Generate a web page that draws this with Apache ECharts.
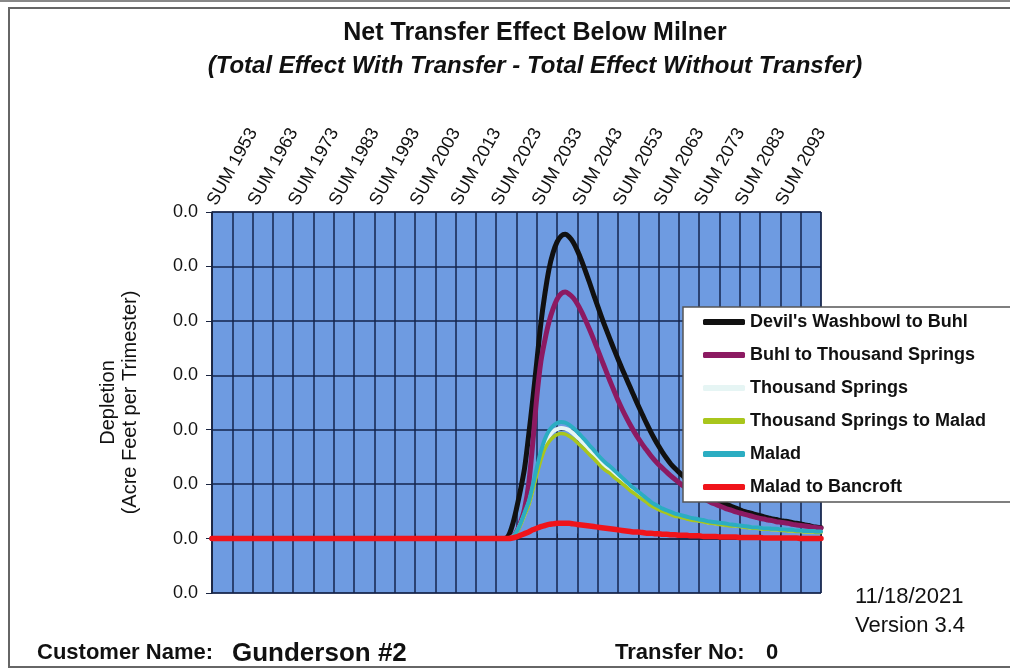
<!DOCTYPE html>
<html>
<head>
<meta charset="utf-8">
<script src="https://cdn.jsdelivr.net/npm/echarts@6/dist/echarts.min.js"></script>
<style>
  html, body { margin: 0; padding: 0; background: #fff; }
  #chart { width: 1010px; height: 669px; }
</style>
</head>
<body>
<div id="chart"></div>
<script>
// one summer trimester per year, SUM 1953 ... SUM 2103
const years = [];
for (let y = 1953; y <= 2103; y++) years.push("SUM " + y);

// depletion values, in thousandths of an acre-foot (axis shows acre-feet, 1 decimal)
// 1953 - 2025: no effect yet
const zeroYears = [
  0, 0, 0, 0, 0, 0, 0, 0, 0, 0,
  0, 0, 0, 0, 0, 0, 0, 0, 0, 0,
  0, 0, 0, 0, 0, 0, 0, 0, 0, 0,
  0, 0, 0, 0, 0, 0, 0, 0, 0, 0,
  0, 0, 0, 0, 0, 0, 0, 0, 0, 0,
  0, 0, 0, 0, 0, 0, 0, 0, 0, 0,
  0, 0, 0, 0, 0, 0, 0, 0, 0, 0,
  0, 0, 0
];
// 2026 - 2103
const devilsWashbowlToBuhl = [
  0.05, 0.25, 0.55, 0.9, 1.3, 1.9, 2.55, 3.25, 3.95, 4.5,
  4.95, 5.25, 5.45, 5.56, 5.59, 5.54, 5.44, 5.29, 5.11, 4.91,
  4.7, 4.48, 4.27, 4.06, 3.86, 3.67, 3.48, 3.3, 3.12, 2.95,
  2.78, 2.61, 2.44, 2.28, 2.12, 1.97, 1.83, 1.7, 1.58, 1.47,
  1.37, 1.29, 1.22, 1.15, 1.08, 1.02, 0.96, 0.91, 0.86, 0.81,
  0.77, 0.73, 0.69, 0.65, 0.62, 0.59, 0.56, 0.53, 0.5, 0.48,
  0.46, 0.44, 0.42, 0.4, 0.38, 0.36, 0.35, 0.33, 0.32, 0.31,
  0.29, 0.28, 0.27, 0.25, 0.24, 0.22, 0.21, 0.2
];
const buhlToThousandSprings = [
  0, 0.03, 0.12, 0.3, 0.55, 1.0, 1.75, 2.6, 3.25, 3.65,
  3.98, 4.22, 4.4, 4.5, 4.53, 4.49, 4.42, 4.31, 4.17, 4.01,
  3.84, 3.66, 3.47, 3.28, 3.09, 2.9, 2.72, 2.54, 2.38, 2.23,
  2.09, 1.96, 1.84, 1.73, 1.63, 1.53, 1.44, 1.36, 1.29, 1.22,
  1.15, 1.09, 1.03, 0.97, 0.92, 0.87, 0.82, 0.78, 0.74, 0.7,
  0.66, 0.63, 0.6, 0.57, 0.54, 0.52, 0.49, 0.47, 0.45, 0.43,
  0.41, 0.39, 0.37, 0.36, 0.34, 0.33, 0.31, 0.3, 0.29, 0.28,
  0.26, 0.25, 0.24, 0.23, 0.22, 0.21, 0.2, 0.19
];
const thousandSprings = [
  0, 0.03, 0.11, 0.27, 0.45, 0.65, 0.93, 1.23, 1.52, 1.74,
  1.88, 1.97, 2.01, 2.03, 2.02, 1.99, 1.93, 1.86, 1.79, 1.71,
  1.62, 1.55, 1.46, 1.39, 1.32, 1.26, 1.2, 1.13, 1.06, 1.0,
  0.93, 0.87, 0.82, 0.76, 0.7, 0.65, 0.6, 0.56, 0.52, 0.49,
  0.47, 0.44, 0.42, 0.4, 0.38, 0.36, 0.35, 0.33, 0.32, 0.3,
  0.29, 0.28, 0.27, 0.26, 0.26, 0.25, 0.24, 0.23, 0.22, 0.21,
  0.2, 0.2, 0.19, 0.18, 0.18, 0.17, 0.17, 0.16, 0.16, 0.15,
  0.15, 0.14, 0.14, 0.13, 0.13, 0.13, 0.12, 0.12
];
const thousandSpringsToMalad = [
  0, 0.02, 0.1, 0.25, 0.43, 0.61, 0.88, 1.17, 1.44, 1.65,
  1.78, 1.86, 1.91, 1.93, 1.92, 1.88, 1.83, 1.76, 1.69, 1.62,
  1.54, 1.47, 1.39, 1.31, 1.25, 1.2, 1.13, 1.07, 1.01, 0.95,
  0.88, 0.83, 0.77, 0.72, 0.67, 0.61, 0.57, 0.53, 0.5, 0.47,
  0.44, 0.41, 0.4, 0.38, 0.36, 0.34, 0.33, 0.32, 0.31, 0.29,
  0.28, 0.27, 0.26, 0.25, 0.24, 0.23, 0.23, 0.22, 0.21, 0.2,
  0.19, 0.19, 0.18, 0.17, 0.17, 0.16, 0.16, 0.15, 0.15, 0.14,
  0.14, 0.13, 0.13, 0.12, 0.12, 0.12, 0.11, 0.11
];
const malad = [
  0, 0.03, 0.12, 0.28, 0.48, 0.68, 0.98, 1.3, 1.6, 1.83,
  1.98, 2.07, 2.12, 2.14, 2.13, 2.09, 2.03, 1.96, 1.88, 1.8,
  1.71, 1.63, 1.54, 1.46, 1.39, 1.33, 1.26, 1.19, 1.12, 1.05,
  0.98, 0.92, 0.86, 0.8, 0.74, 0.68, 0.63, 0.59, 0.55, 0.52,
  0.49, 0.46, 0.44, 0.42, 0.4, 0.38, 0.37, 0.35, 0.34, 0.32,
  0.31, 0.3, 0.29, 0.28, 0.27, 0.26, 0.25, 0.24, 0.23, 0.22,
  0.21, 0.21, 0.2, 0.19, 0.19, 0.18, 0.18, 0.17, 0.17, 0.16,
  0.16, 0.15, 0.15, 0.14, 0.14, 0.14, 0.13, 0.13
];
const maladToBancroft = [
  0, 0.01, 0.03, 0.06, 0.09, 0.12, 0.16, 0.19, 0.22, 0.24,
  0.26, 0.27, 0.28, 0.28, 0.28, 0.28, 0.27, 0.26, 0.25, 0.24,
  0.23, 0.22, 0.21, 0.2, 0.19, 0.18, 0.17, 0.16, 0.15, 0.14,
  0.13, 0.12, 0.12, 0.11, 0.1, 0.1, 0.09, 0.09, 0.08, 0.08,
  0.07, 0.07, 0.06, 0.06, 0.06, 0.05, 0.05, 0.05, 0.04, 0.04,
  0.04, 0.04, 0.03, 0.03, 0.03, 0.03, 0.03, 0.02, 0.02, 0.02,
  0.02, 0.02, 0.02, 0.01, 0.01, 0.01, 0.01, 0.01, 0.01, 0.01,
  0.01, 0.01, 0, 0, 0, 0, 0, 0
];
const yTicks = { min: -1, max: 6, step: 1 };

const seriesList = [
  { name: "Devil's Washbowl to Buhl", data: devilsWashbowlToBuhl, color: "#111111", width: 5 },
  { name: "Buhl to Thousand Springs", data: buhlToThousandSprings, color: "#8c1a62", width: 5 },
  { name: "Thousand Springs", data: thousandSprings, color: "#e6f5f4", width: 4 },
  { name: "Thousand Springs to Malad", data: thousandSpringsToMalad, color: "#a9c61c", width: 3.5 },
  { name: "Malad", data: malad, color: "#2badc2", width: 4 },
  { name: "Malad to Bancroft", data: maladToBancroft, color: "#f0141a", width: 5.5 }
];

const FONT = "Liberation Sans, Arial, sans-serif";
const chart = echarts.init(document.getElementById("chart"));
const every5 = (i) => i % 5 === 0;

chart.setOption({
  animation: false,
  textStyle: { fontFamily: FONT },
  grid: {
    left: 212, right: 189, top: 212, bottom: 76,
    show: true,
    backgroundColor: "#6e9be1",
    borderColor: "#1a2540",
    borderWidth: 1
  },
  legend: {
    orient: "vertical",
    left: 683, top: 307,
    padding: [5, 60, 5, 20],
    itemWidth: 42, itemHeight: 6,
    itemGap: 13,
    icon: "roundRect",
    selectedMode: false,
    backgroundColor: "#ffffff",
    borderColor: "#555",
    borderWidth: 1.5,
    textStyle: { fontSize: 18, fontWeight: "bold", color: "#111", lineHeight: 20 },
    data: seriesList.map(s => s.name)
  },
  xAxis: {
    type: "category",
    position: "top",
    boundaryGap: false,
    data: years,
    axisLine: { show: true, lineStyle: { color: "#1a2540", width: 1.5 } },
    axisTick: { show: true, interval: every5, length: 5, lineStyle: { color: "#1a2540" } },
    axisLabel: {
      rotate: 61, margin: 8, fontSize: 18, color: "#111",
      interval: (i) => i % 10 === 0 && i < 150
    },
    splitLine: { show: true, interval: every5, lineStyle: { color: "#14244c", width: 1.5 } }
  },
  yAxis: {
    type: "value",
    min: yTicks.min, max: yTicks.max, interval: yTicks.step,
    name: "Depletion\n(Acre Feet per Trimester)",
    nameLocation: "middle",
    nameGap: 71,
    nameTextStyle: { fontSize: 20, color: "#111", lineHeight: 22 },
    axisLine: { show: true, lineStyle: { color: "#1a2540", width: 1.5 } },
    axisTick: { show: true, length: 6, lineStyle: { color: "#1a2540" } },
    axisLabel: {
      fontSize: 18, color: "#111", margin: 14,
      formatter: (v) => { const r = Math.round(v / 100) / 10; return (r === 0 ? 0 : r).toFixed(1); }
    },
    splitLine: { show: true, lineStyle: { color: "#14244c", width: 1.5 } }
  },
  graphic: [
    { type: "rect", shape: { x: 9, y: 8, width: 1020, height: 659 }, style: { fill: "none", stroke: "#666", lineWidth: 2 }, silent: true, z: -10 },
    { type: "line", shape: { x1: 0, y1: 1, x2: 1010, y2: 1 }, style: { stroke: "#888", lineWidth: 2 }, silent: true },
    { type: "text", x: 535, y: 33, style: { text: "Net Transfer Effect Below Milner", fontSize: 25, fontWeight: "bold", fill: "#111", align: "center", verticalAlign: "middle", fontFamily: FONT } },
    { type: "text", x: 535, y: 66, style: { text: "(Total Effect With Transfer - Total Effect Without Transfer)", fontSize: 24, fontWeight: "bold", fontStyle: "italic", fill: "#111", align: "center", verticalAlign: "middle", fontFamily: FONT } },
    { type: "text", x: 855, y: 597, style: { text: "11/18/2021", fontSize: 22, fill: "#111", verticalAlign: "middle", fontFamily: FONT } },
    { type: "text", x: 855, y: 626, style: { text: "Version 3.4", fontSize: 22, fill: "#111", verticalAlign: "middle", fontFamily: FONT } },
    { type: "text", x: 37, y: 653, style: { text: "Customer Name:", fontSize: 22, fontWeight: "bold", fill: "#111", verticalAlign: "middle", fontFamily: FONT } },
    { type: "text", x: 232, y: 654, style: { text: "Gunderson #2", fontSize: 26, fontWeight: "bold", fill: "#111", verticalAlign: "middle", fontFamily: FONT } },
    { type: "text", x: 615, y: 653, style: { text: "Transfer No:", fontSize: 22, fontWeight: "bold", fill: "#111", verticalAlign: "middle", fontFamily: FONT } },
    { type: "text", x: 766, y: 653, style: { text: "0", fontSize: 22, fontWeight: "bold", fill: "#111", verticalAlign: "middle", fontFamily: FONT } }
  ],
  series: seriesList.map(s => ({
    name: s.name,
    type: "line",
    data: zeroYears.concat(s.data),
    smooth: 0.3,
    showSymbol: false,
    color: s.color,
    lineStyle: { color: s.color, width: s.width, cap: "round", join: "round" }
  }))
});
</script>
</body>
</html>
